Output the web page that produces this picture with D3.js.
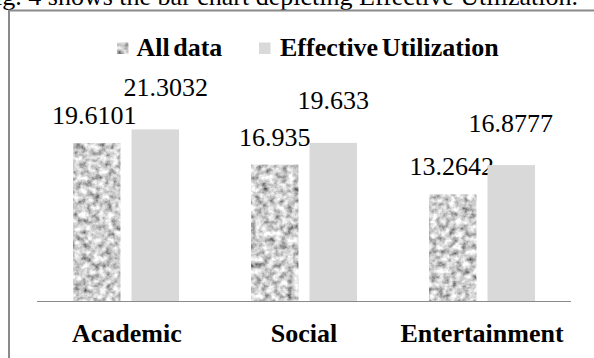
<!DOCTYPE html>
<html>
<head>
<meta charset="utf-8">
<script src="https://cdn.jsdelivr.net/npm/d3@7/dist/d3.min.js"></script>
</head>
<body style="margin:0;background:#fff">
<svg id="chart" width="594" height="358"></svg>
<script>
// Usage categories and the two measured series
const categories = ["Academic", "Social", "Entertainment"];
const seriesNames = ["All data", "Effective Utilization"];
const allData = [19.6101, 16.935, 13.2642];
const effectiveUtilization = [21.3032, 19.633, 16.8777];
const valueLabels = [["19.6101", "16.935", "13.2642"], ["21.3032", "19.633", "16.8777"]];
const caption = "Fig. 4 shows the bar chart depicting Effective Utilization.";

const W = 594, H = 358;
const FONT = "'Liberation Serif'";
const svg = d3.select("#chart").attr("font-family", FONT);

// granite-like texture for the "All data" bars
const defs = svg.append("defs");
const f = defs.append("filter").attr("id", "granite")
  .attr("x", 0).attr("y", 0).attr("width", 1).attr("height", 1)
  .attr("filterUnits", "objectBoundingBox");
f.append("feTurbulence").attr("type", "fractalNoise")
  .attr("baseFrequency", 0.16).attr("numOctaves", 3).attr("seed", 11).attr("result", "noise");
f.append("feColorMatrix").attr("in", "noise").attr("type", "matrix")
  .attr("values", "1.45 0 0 0 -0.1  1.45 0 0 0 -0.1  1.45 0 0 0 -0.1  0 0 0 0 1")
  .attr("result", "gray");
f.append("feComposite").attr("in", "gray").attr("in2", "SourceGraphic").attr("operator", "in");

// caption line running above the frame
svg.append("text").attr("x", 578).attr("y", 5).attr("text-anchor", "end")
  .attr("font-family", FONT)
  .attr("font-size", 26).attr("fill", "#000").text(caption);

// chart frame (top and left edges)
svg.append("path")
  .attr("d", `M9,${H} L9,10.5 L${W},10.5`)
  .attr("fill", "none").attr("stroke", "#8a8a8a").attr("stroke-width", 2);

// scales
const plot = { left: 37, right: 571, top: 99.5, bottom: 301.5 };
const x0 = d3.scaleBand().domain(categories).range([plot.left, plot.right]).padding(0);
const x1 = d3.scaleBand().domain(seriesNames).range([36, 142]).paddingInner(0.188);
const y = d3.scaleLinear().domain([0, 25]).range([plot.bottom, plot.top]);

const series = [allData, effectiveUtilization];
const fills = ["#a0a0a0", "#d9d9d9"];

// label nudges so neighbouring labels do not collide
const labelLift = [19, 33.5];
const labelShift = [[-2.5, 0, -1], [10.5, 0, -0.5]];

const g = svg.append("g");
series.forEach((vals, si) => {
  const sname = seriesNames[si];
  g.selectAll(null).data(categories).enter().append("rect")
    .attr("x", c => x0(c) + x1(sname))
    .attr("y", (c, i) => y(vals[i]))
    .attr("width", x1.bandwidth())
    .attr("height", (c, i) => y(0) - y(vals[i]))
    .attr("fill", fills[si])
    .attr("filter", si === 0 ? "url(#granite)" : null);

  g.selectAll(null).data(categories).enter().append("text")
    .attr("x", (c, i) => x0(c) + x1(sname) + x1.bandwidth() / 2 + labelShift[si][i])
    .attr("y", (c, i) => y(vals[i]) - labelLift[si])
    .attr("text-anchor", "middle")
    .attr("font-family", FONT)
    .attr("font-size", 26)
    .attr("fill", "#000")
    .text((c, i) => valueLabels[si][i]);
});

// category axis
const xAxis = d3.axisBottom(x0).tickSize(0).tickPadding(0);
const ax = svg.append("g").attr("transform", `translate(0,${plot.bottom})`).call(xAxis);
ax.attr("font-family", FONT);
ax.select(".domain").attr("stroke", "#8a8a8a").attr("stroke-width", 1.2)
  .attr("d", `M${plot.left},0H${plot.right}`);
ax.selectAll(".tick text")
  .attr("font-family", FONT)
  .attr("font-size", 26).attr("font-weight", "bold").attr("fill", "#000")
  .attr("dy", 0).attr("y", 40.5)
  .attr("transform", d => `translate(${[0.9, 0, 0][categories.indexOf(d)]},0)`);

// legend
const legendItems = [
  { name: seriesNames[0], mx: 117, tx: 136.5 },
  { name: seriesNames[1], mx: 259, tx: 280 }
];
const lg = svg.append("g");
legendItems.forEach((it, i) => {
  lg.append("rect").attr("x", it.mx).attr("y", 42.5).attr("width", 11.5).attr("height", 11.5)
    .attr("fill", fills[i]).attr("filter", i === 0 ? "url(#granite)" : null);
  lg.append("text").attr("x", it.tx).attr("y", 56)
    .attr("font-family", FONT)
    .attr("font-size", 26).attr("font-weight", "bold").attr("fill", "#000")
    .attr("word-spacing", -3)
    .text(it.name);
});
</script>
</body>
</html>
